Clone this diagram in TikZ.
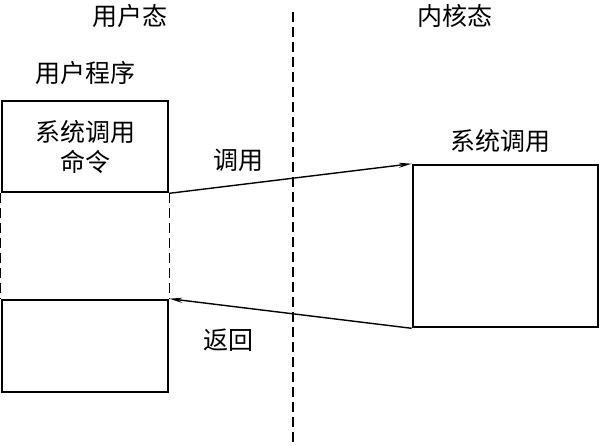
\documentclass[tikz,border=0pt]{standalone}
\usepackage{fontspec}
\setmainfont{Noto Sans CJK SC}
\usetikzlibrary{arrows.meta}
\tikzset{
  box/.style={draw, line width=2.6pt, minimum width=166pt, minimum height=91pt, inner sep=0pt},
  lbl/.style={font=\fontsize{25pt}{28pt}\selectfont, inner sep=0pt, align=center},
  conn/.style={line width=1.4pt, -{Stealth[length=13pt,width=5pt]}},
  sep/.style={line width=1.4pt, dash pattern=on 10pt off 5pt}
}
\begin{document}
\begin{tikzpicture}[x=1pt,y=-1pt]
\useasboundingbox (0,0) rectangle (600,445);
\node[box] (prog) at (85,146.5) {};
\node[box, minimum height=92pt] (ret) at (85,346) {};
\node[box, minimum width=185pt, minimum height=162pt] (kern) at (505.5,246) {};
\coordinate (mt) at (293,12);
\coordinate (mb) at (293,445);
\draw[sep] (mt) -- (mb);
\draw[sep] (prog.south west) -- (ret.north west);
\draw[sep] (prog.south east) -- (ret.north east);
\draw[conn] (prog.south east) -- (kern.north west);
\draw[conn] (kern.south west) -- (ret.north east);
\node[lbl] (user) at (130,16) {用户态};
\node[lbl] (kernel) at (455,16) {内核态};
\node[lbl] (uprog) at (85,73) {用户程序};
\node[lbl, text depth=0pt] (cmd) at (85,146) {系统调用\\[2pt]命令};
\node[lbl] (call) at (238,160) {调用};
\node[lbl] (back) at (228,340) {返回};
\node[lbl] (sc) at (500,141) {系统调用};
\end{tikzpicture}
\end{document}
